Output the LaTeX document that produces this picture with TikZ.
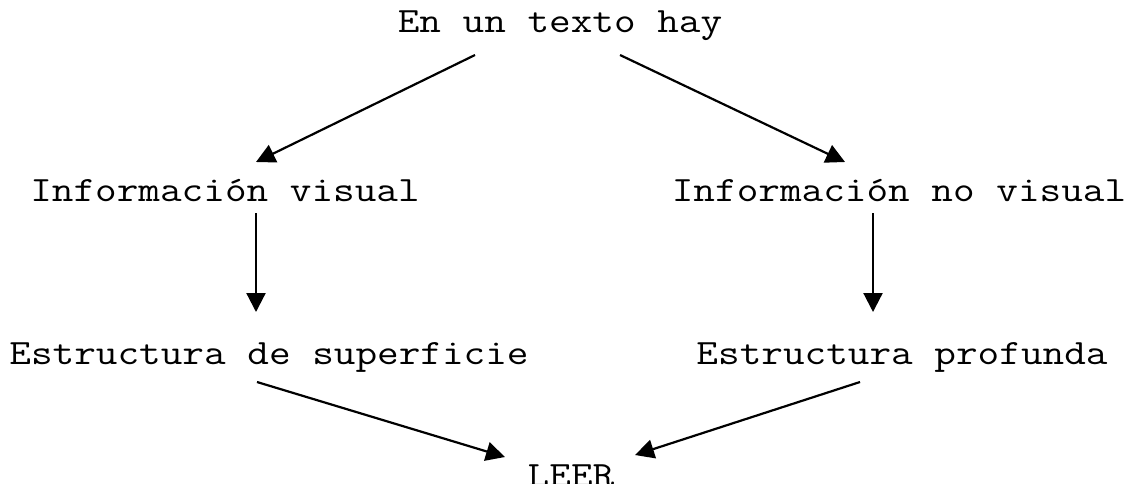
\documentclass[tikz,border=0pt]{standalone}
\usepackage{fontspec}
\usetikzlibrary{arrows.meta}
\usetikzlibrary{calc}

\newcommand{\wide}[1]{\scalebox{1.18}[1]{#1}}
\tikzset{
  txt/.style={inner sep=0pt,anchor=base,font=\ttfamily\fontsize{17.8}{20}\selectfont},
  arr/.style={line width=1.1pt,-{Triangle[length=9.5pt,width=9.5pt]}}
}

\begin{document}
\begin{tikzpicture}
  [x=0.5pt,y=-0.5pt]
  \useasboundingbox (0,0) rectangle (1128,483);
  \node[txt] (texto)  at (560,32)  {\wide{En un texto hay}};
  \node[txt] (vis)    at (225,201) {\wide{Información visual}};
  \node[txt] (novis)  at (899,201) {\wide{Información no visual}};
  \node[txt] (sup)    at (269,364) {\wide{Estructura de superficie}};
  \node[txt] (prof)   at (902,364) {\wide{Estructura profunda}};
  \node[txt] (leer)   at (571,486) {\wide{LEER}};

  \draw[arr] ($(texto.base)+(-85,23)$) -- ($(vis.base)+(31,-39)$);
  \draw[arr] ($(texto.base)+(60,23)$)  -- ($(novis.base)+(-54,-39)$);
  \draw[arr] ($(vis.base)+(31,12)$)    -- ($(sup.base)+(-13,-52)$);
  \draw[arr] ($(novis.base)+(-26,12)$) -- ($(prof.base)+(-29,-52)$);
  \draw[arr] ($(sup.base)+(-12,18)$)   -- ($(leer.base)+(-66,-29)$);
  \draw[arr] ($(prof.base)+(-42,18)$)  -- ($(leer.base)+(64,-31)$);
\end{tikzpicture}
\end{document}
